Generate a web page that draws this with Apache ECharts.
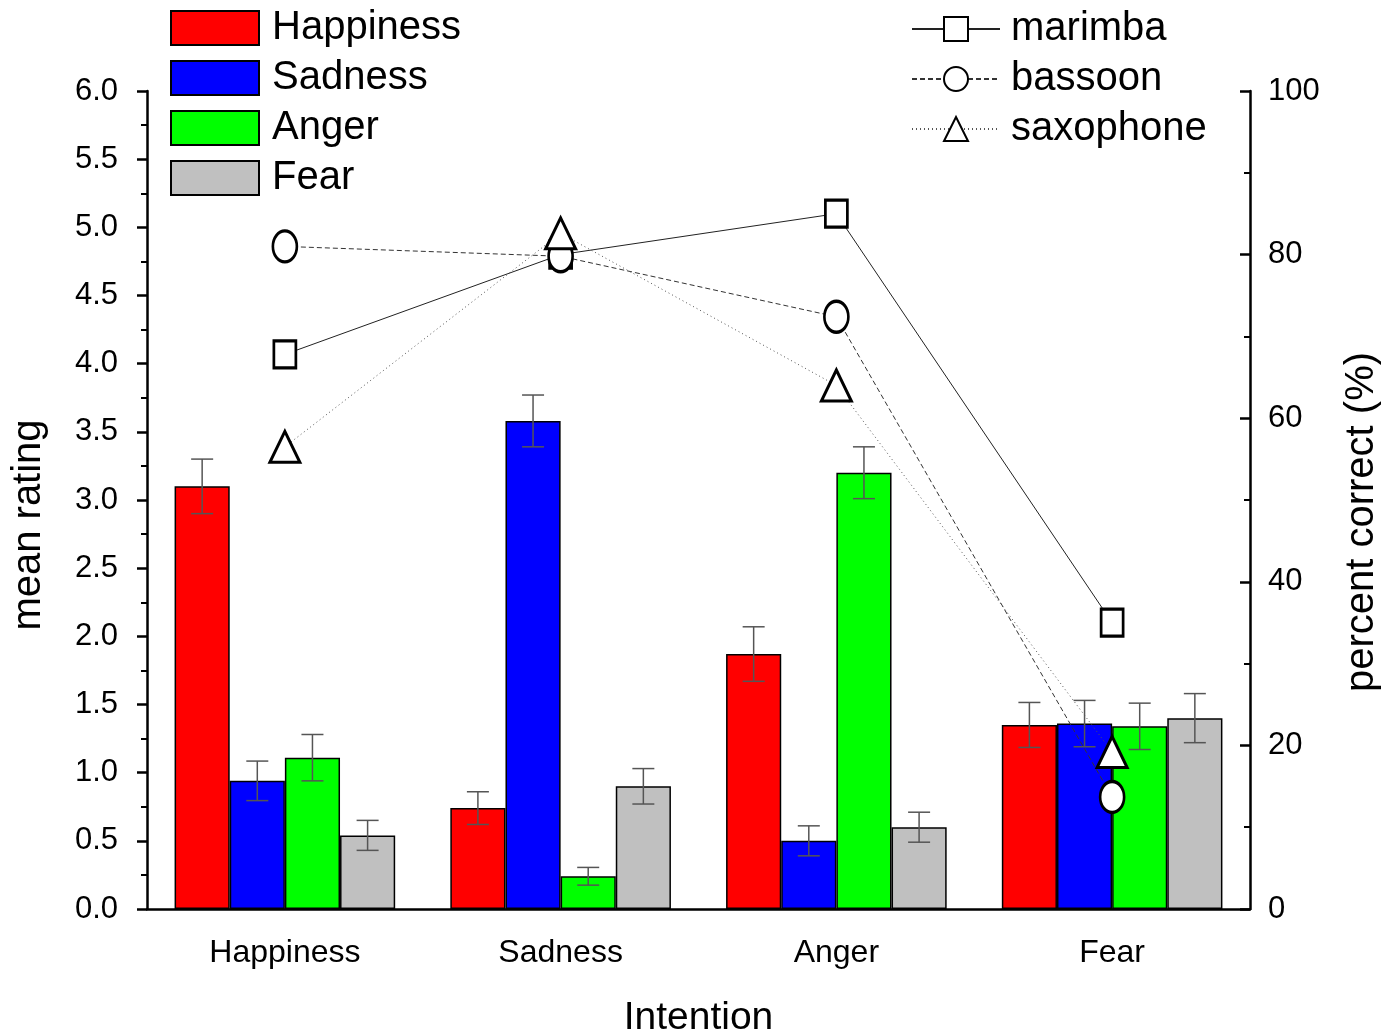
<!DOCTYPE html>
<html>
<head>
<meta charset="utf-8">
<script src="https://cdn.jsdelivr.net/npm/echarts@6/dist/echarts.min.js"></script>
<style>
  html, body { margin: 0; padding: 0; background: #fff; overflow: hidden; }
  #chart { width: 1385px; height: 1034px; }
</style>
</head>
<body>
<div id="chart"></div>
<script>
// intentions on the x axis
const categories = ['Happiness', 'Sadness', 'Anger', 'Fear']

// mean rating per emotion scale (left axis)
const happinessRating = [3.1, 0.74, 1.87, 1.35]
const sadnessRating = [0.94, 3.58, 0.5, 1.36]
const angerRating = [1.11, 0.24, 3.2, 1.34]
const fearRating = [0.54, 0.9, 0.6, 1.4]

// error bar half-lengths
const happinessErr = [0.2, 0.12, 0.2, 0.165]
const sadnessErr = [0.145, 0.19, 0.11, 0.17]
const angerErr = [0.17, 0.065, 0.19, 0.17]
const fearErr = [0.11, 0.13, 0.11, 0.18]

// percent correct per instrument (right axis)
const marimba = [67.8, 80, 85, 35]
const bassoon = [81, 79.8, 72.4, 13.7]
const saxophone = [56.5, 82.6, 64, 19.2]

const FONT = 'Liberation Sans, Arial, sans-serif'

const barDefs = [
  { name: 'Happiness', values: happinessRating, errs: happinessErr, color: '#ff0000' },
  { name: 'Sadness', values: sadnessRating, errs: sadnessErr, color: '#0000ff' },
  { name: 'Anger', values: angerRating, errs: angerErr, color: '#00ff00' },
  { name: 'Fear', values: fearRating, errs: fearErr, color: '#c0c0c0' }
]

const barSeries = barDefs.map((b) => ({
  name: b.name,
  type: 'bar',
  yAxisIndex: 0,
  barGap: '0%',
  barCategoryGap: '20%',
  data: b.values,
  itemStyle: { color: b.color, borderColor: '#000', borderWidth: 1.5 },
  z: 2
}))

const errData = []
barDefs.forEach((b, bi) => {
  b.values.forEach((v, ci) => errData.push([ci, v, b.errs[ci], bi]))
})

const errSeries = {
  type: 'custom',
  yAxisIndex: 0,
  data: errData,
  z: 3,
  silent: true,
  renderItem: (params, api) => {
    const ci = api.value(0)
    const v = api.value(1)
    const e = api.value(2)
    const bi = api.value(3)
    const band = api.size([1, 0])[0]
    const bw = band * 0.8 / 4
    const x = api.coord([ci, v])[0] + (bi - 1.5) * bw
    const yTop = api.coord([ci, v + e])[1]
    const yBot = api.coord([ci, v - e])[1]
    const cap = 11
    const style = { stroke: '#555', lineWidth: 1.5 }
    return {
      type: 'group',
      children: [
        { type: 'line', shape: { x1: x, y1: yTop, x2: x, y2: yBot }, style },
        { type: 'line', shape: { x1: x - cap, y1: yTop, x2: x + cap, y2: yTop }, style },
        { type: 'line', shape: { x1: x - cap, y1: yBot, x2: x + cap, y2: yBot }, style }
      ]
    }
  }
}

const markerStyle = { color: '#fff', borderColor: '#000', borderWidth: 3 }

const lineSeries = [
  {
    name: 'marimba', data: marimba, symbol: 'rect', symbolSize: [22, 27],
    lineStyle: { color: '#222', width: 1, type: 'solid' }
  },
  {
    name: 'bassoon', data: bassoon, symbol: 'circle', symbolSize: [24, 31],
    lineStyle: { color: '#333', width: 1, type: [5, 3] }
  },
  {
    name: 'saxophone', data: saxophone, symbol: 'triangle', symbolSize: [30, 31],
    lineStyle: { color: '#555', width: 1, type: [1, 3] }
  }
].map((s) => ({
  ...s,
  type: 'line',
  yAxisIndex: 1,
  showAllSymbol: true,
  itemStyle: markerStyle,
  z: 4
}))

const legendText = { fontSize: 40, fontFamily: FONT, color: '#000', lineHeight: 40 }

const option = {
  animation: false,
  backgroundColor: '#fff',
  textStyle: { fontFamily: FONT, color: '#000' },
  grid: { left: 147, right: 135, top: 91, bottom: 125, outerBoundsMode: 'none', containLabel: false },
  legend: [
    {
      data: ['Happiness', 'Sadness', 'Anger', 'Fear'],
      icon: 'rect',
      orient: 'vertical',
      left: 168,
      top: 6,
      padding: 2,
      itemWidth: 88,
      itemHeight: 34,
      itemGap: 10,
      textStyle: { ...legendText, padding: [0, 0, 0, 8] }
    },
    {
      data: ['marimba', 'bassoon', 'saxophone'],
      orient: 'vertical',
      left: 909,
      top: 7,
      padding: 2,
      itemWidth: 88,
      itemHeight: 30,
      itemGap: 10,
      textStyle: { ...legendText, padding: [0, 0, 0, 6] }
    }
  ],
  xAxis: {
    type: 'category',
    data: categories,
    name: 'Intention',
    nameLocation: 'middle',
    nameGap: 90,
    nameTextStyle: { fontSize: 39, fontFamily: FONT, color: '#000' },
    axisLine: { lineStyle: { color: '#000', width: 2.5 } },
    axisTick: { alignWithLabel: true, length: 11, lineStyle: { color: '#000', width: 2.5 } },
    axisLabel: { fontSize: 32, color: '#000', margin: 28 },
    splitLine: { show: false }
  },
  yAxis: [
    {
      type: 'value',
      min: 0,
      max: 6,
      interval: 0.5,
      name: 'mean rating',
      nameLocation: 'middle',
      nameGap: 98,
      nameTextStyle: { fontSize: 40, fontFamily: FONT, color: '#000', padding: [0, 50, 0, 0] },
      axisLine: { show: true, lineStyle: { color: '#000', width: 2.5 } },
      axisTick: { show: true, length: 10, lineStyle: { color: '#000', width: 2.5 } },
      minorTick: { show: true, splitNumber: 2, length: 6, lineStyle: { color: '#000', width: 2 } },
      axisLabel: { fontSize: 31, color: '#000', margin: 29, formatter: (v) => v.toFixed(1) },
      splitLine: { show: false }
    },
    {
      type: 'value',
      min: 0,
      max: 100,
      interval: 20,
      position: 'right',
      name: 'percent correct (%)',
      nameLocation: 'middle',
      nameGap: 92,
      nameTextStyle: { fontSize: 40, fontFamily: FONT, color: '#000', padding: [0, 44, 0, 0] },
      axisLine: { show: true, lineStyle: { color: '#000', width: 2.5 } },
      axisTick: { show: true, inside: true, length: 10, lineStyle: { color: '#000', width: 2.5 } },
      minorTick: { show: true, splitNumber: 2, length: 6, lineStyle: { color: '#000', width: 2 } },
      axisLabel: { fontSize: 31, color: '#000', margin: 18 },
      splitLine: { show: false }
    }
  ],
  series: [...barSeries, errSeries, ...lineSeries]
}

const myChart = echarts.init(document.getElementById('chart'))
myChart.setOption(option)
</script>
</body>
</html>
